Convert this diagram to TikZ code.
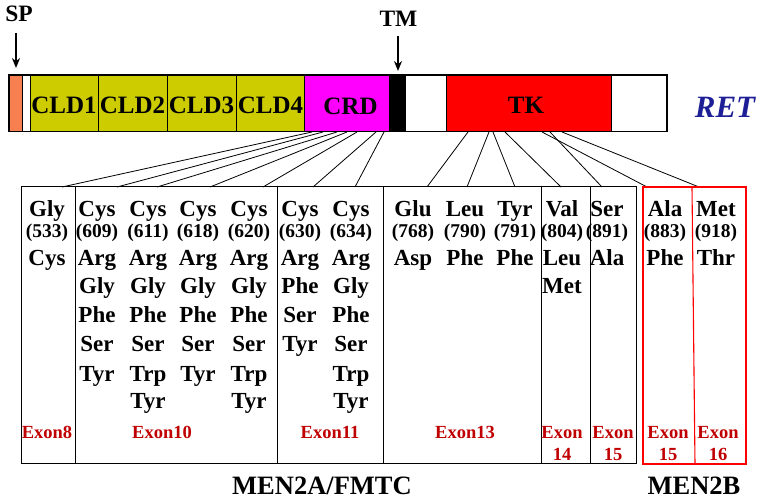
\documentclass[tikz,border=0pt]{standalone}
\usepackage{fontspec}
\setmainfont{Liberation Serif}
\usetikzlibrary{arrows.meta}
\definecolor{cldyel}{RGB}{204,204,0}
\definecolor{sporange}{RGB}{248,128,80}
\definecolor{retblue}{RGB}{30,30,150}
\definecolor{exonred}{RGB}{192,0,0}
\definecolor{crdmag}{RGB}{255,0,255}
\definecolor{tkred}{RGB}{255,0,0}
\begin{document}
\begin{tikzpicture}[x=1pt,y=-1pt,
  aa/.style={font=\fontsize{23}{26}\selectfont\bfseries, anchor=base, inner sep=0pt},
  num/.style={font=\fontsize{19.5}{22}\selectfont\bfseries, anchor=base, inner sep=0pt},
  exon/.style={font=\fontsize{18.5}{21}\selectfont\bfseries, text=exonred, anchor=base, inner sep=0pt},
  barlabel/.style={font=\fontsize{25}{28}\selectfont\bfseries, anchor=base, inner sep=0pt},
  toplabel/.style={font=\fontsize{23.5}{26}\selectfont\bfseries, anchor=base, inner sep=0pt},
  biglabel/.style={font=\fontsize{26.5}{29}\selectfont\bfseries, anchor=base, inner sep=0pt},
  seg/.style={draw=black, line width=0.9pt},
  conn/.style={draw=black, line width=0.8pt},
  pointer/.style={draw=black, line width=1.4pt, -{Stealth[length=10pt,width=8pt]}}
]
\useasboundingbox (0,0) rectangle (764,502);

% ---- protein bar ----
\path[seg, fill=sporange] (9,75) rectangle (22.5,131.5);
\path[seg, fill=white] (22.5,75) rectangle (30.5,131.5);
\path[seg, fill=cldyel] (30.5,75) rectangle (98,131.5);
\path[seg, fill=cldyel] (98,75) rectangle (167.5,131.5);
\path[seg, fill=cldyel] (167.5,75) rectangle (236,131.5);
\path[seg, fill=cldyel] (236,75) rectangle (304.5,131.5);
\path[seg, fill=crdmag] (304.5,75) rectangle (389,131.5);
\path[seg, fill=black] (389,75) rectangle (405,131.5);
\path[seg, fill=white] (405,75) rectangle (446,131.5);
\path[seg, fill=tkred] (446,75) rectangle (611,131.5);
\path[seg, fill=white] (611,75) rectangle (667,131.5);
\draw[line width=1.2pt] (9,75) rectangle (667,131.5);

\node[barlabel] (cld1) at (64,113.5) {CLD1};
\node[barlabel] (cld2) at (132.5,113.5) {CLD2};
\node[barlabel] (cld3) at (201.5,113.5) {CLD3};
\node[barlabel] (cld4) at (270.5,113.5) {CLD4};
\node[barlabel] (crd) at (350.5,114.5) {CRD};
\node[barlabel] (tk) at (526,113.5) {TK};
\node[font=\fontsize{31}{34}\selectfont\bfseries\itshape, text=retblue, anchor=base, inner sep=0pt] (ret) at (725,118) {RET};

% ---- SP / TM pointers ----
\node[toplabel] (sp) at (19,21.5) {SP};
\node[toplabel] (tm) at (398.5,26.5) {TM};
\coordinate (spa) at (16,33);
\coordinate (spb) at (16,68);
\coordinate (tma) at (398,36);
\coordinate (tmb) at (398,71);
\draw[pointer] (spa) -- (spb);
\draw[pointer] (tma) -- (tmb);

% ---- connectors ----
\foreach \n/\xt/\xb in {533/312/62, 609/323/117, 611/337/157, 618/347/210,
  620/357/263, 630/376/313, 634/384/355, 768/468/427, 790/489/467,
  791/493/515, 804/505/561, 891/550/602, 883/542/647, 918/562/699}{
  \coordinate (t\n) at (\xt,132);
  \coordinate (b\n) at (\xb,187);
  \draw[conn] (t\n) -- (b\n);
}

% ---- table ----
\draw[line width=1pt] (21,187) rectangle (636,464);
\foreach \vx in {75,277,383,541,590}{
  \draw[line width=1pt] (\vx,187) -- (\vx,464);
}
\draw[tkred, line width=2.6pt] (643,187) rectangle (746,464);
\draw[tkred, line width=1.1pt] (692,187) -- (695,464);

% ---- amino acids ----
\foreach \cx/\cn/\items in {
  47/533/{Gly,Cys},
  97/609/{Cys,Arg,Gly,Phe,Ser,Tyr},
  148/611/{Cys,Arg,Gly,Phe,Ser,Trp,Tyr},
  198/618/{Cys,Arg,Gly,Phe,Ser,Tyr},
  249/620/{Cys,Arg,Gly,Phe,Ser,Trp,Tyr},
  300/630/{Cys,Arg,Phe,Ser,Tyr},
  351/634/{Cys,Arg,Gly,Phe,Ser,Trp,Tyr},
  413/768/{Glu,Asp},
  465/790/{Leu,Phe},
  515/791/{Tyr,Phe},
  562/804/{Val,Leu,Met},
  607/891/{Ser,Ala},
  665/883/{Ala,Phe},
  716/918/{Met,Thr}}{
  \node[num] (n\cn) at (\cx,238) {(\cn)};
  \foreach \t [count=\i] in \items {
    \pgfmathsetmacro\yy{{217,266,294,323,352,381.5,409}[\i-1]}
    \node[aa] (a\cn-\i) at (\cx,\yy) {\t};
  }
}

% ---- exon labels ----
\node[exon] (ex8) at (47,439) {Exon8};
\node[exon] (ex10) at (162,439) {Exon10};
\node[exon] (ex11) at (330,439) {Exon11};
\node[exon] (ex13) at (465,439) {Exon13};
\node[exon] (ex14a) at (562,439) {Exon};
\node[exon] (ex14b) at (562,461) {14};
\node[exon] (ex15a) at (613,439) {Exon};
\node[exon] (ex15b) at (613,461) {15};
\node[exon] (ex15c) at (668,439) {Exon};
\node[exon] (ex15d) at (668,461) {15};
\node[exon] (ex16a) at (718,439) {Exon};
\node[exon] (ex16b) at (718,461) {16};

% ---- syndrome labels ----
\node[biglabel] (men2a) at (322,495) {MEN2A/FMTC};
\node[biglabel] (men2b) at (694,495) {MEN2B};
\end{tikzpicture}
\end{document}
